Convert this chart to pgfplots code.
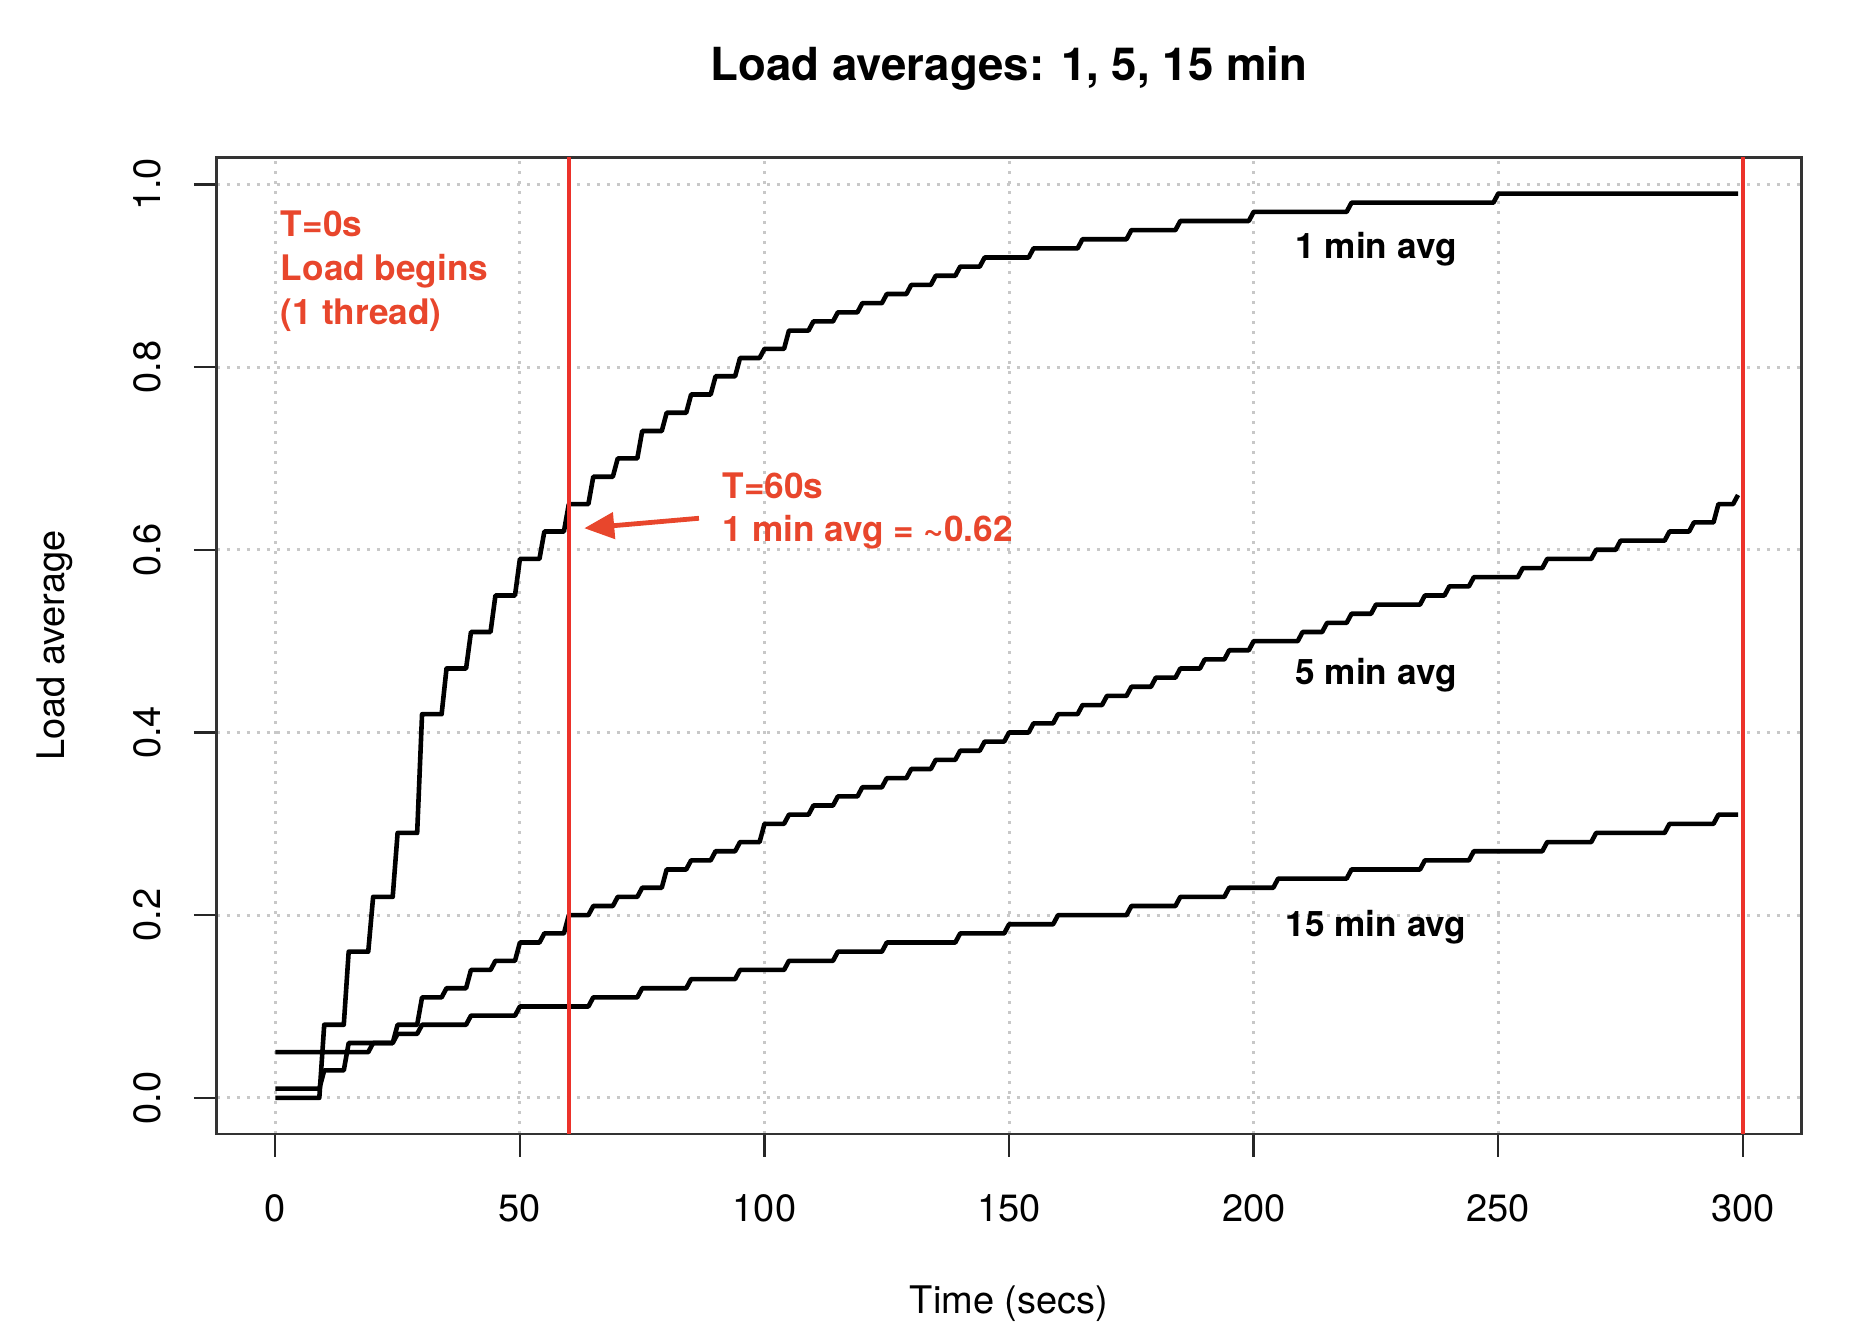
\documentclass[border=0pt]{standalone}
\usepackage{fontspec}
\setmainfont{TeX Gyre Heros}
\usepackage{pgfplots}
\pgfplotsset{compat=1.18}
\usetikzlibrary{arrows.meta}
\definecolor{annot}{RGB}{232,70,44}
\definecolor{vline}{RGB}{236,50,42}
\definecolor{gridc}{RGB}{200,200,200}
\begin{document}
\begin{tikzpicture}
\begin{axis}[
  at={(0pt,0pt)}, anchor=south west,
  scale only axis, width=396.25pt, height=244.15pt,
  xmin=-12, xmax=312, ymin=-0.0396, ymax=1.0296,
  xtick={0,50,100,150,200,250,300},
  xticklabels={0,50,100,150,200,250,300},
  ytick={0,0.2,0.4,0.6,0.8,1.0},
  yticklabels={0.0,0.2,0.4,0.6,0.8,1.0},
  xtick pos=left, ytick pos=left,
  tick align=outside, major tick length=5.7pt,
  every tick/.style={black!85, line width=0.6pt},
  axis line style={black!80, line width=0.65pt},
  grid=major,
  major grid style={gridc, line width=0.75pt, dash pattern=on 0.75pt off 1.75pt},
  ticklabel style={font=\fontsize{9.5}{11}\selectfont},
  xticklabel style={anchor=base, yshift=-16.2pt},
  yticklabel style={xshift=-8.3pt, rotate=90, anchor=base},
]
% 1 min average
\addplot[black, line width=1.15pt, line join=round] coordinates {
(0,0.00)(9,0.00)(10,0.08)(14,0.08)(15,0.16)(19,0.16)(20,0.22)(24,0.22)
(25,0.29)(29,0.29)(30,0.42)(34,0.42)(35,0.47)(39,0.47)(40,0.51)(44,0.51)
(45,0.55)(49,0.55)(50,0.59)(54,0.59)(55,0.62)(59,0.62)(60,0.65)(64,0.65)
(65,0.68)(69,0.68)(70,0.70)(74,0.70)(75,0.73)(79,0.73)(80,0.75)(84,0.75)
(85,0.77)(89,0.77)(90,0.79)(94,0.79)(95,0.81)(99,0.81)(100,0.82)(104,0.82)
(105,0.84)(109,0.84)(110,0.85)(114,0.85)(115,0.86)(119,0.86)(120,0.87)(124,0.87)
(125,0.88)(129,0.88)(130,0.89)(134,0.89)(135,0.90)(139,0.90)(140,0.91)(144,0.91)
(145,0.92)(154,0.92)(155,0.93)(164,0.93)(165,0.94)(174,0.94)(175,0.95)(184,0.95)
(185,0.96)(199,0.96)(200,0.97)(219,0.97)(220,0.98)(249,0.98)(250,0.99)(299,0.99)
};
% 5 min average
\addplot[black, line width=1.15pt, line join=round] coordinates {
(0,0.01)(9,0.01)(10,0.03)(14,0.03)(15,0.06)(24,0.06)(25,0.08)(29,0.08)
(30,0.11)(34,0.11)(35,0.12)(39,0.12)(40,0.14)(44,0.14)(45,0.15)(49,0.15)
(50,0.17)(54,0.17)(55,0.18)(59,0.18)(60,0.20)(64,0.20)(65,0.21)(69,0.21)
(70,0.22)(74,0.22)(75,0.23)(79,0.23)(80,0.25)(84,0.25)(85,0.26)(89,0.26)
(90,0.27)(94,0.27)(95,0.28)(99,0.28)(100,0.30)(104,0.30)(105,0.31)(109,0.31)
(110,0.32)(114,0.32)(115,0.33)(119,0.33)(120,0.34)(124,0.34)(125,0.35)(129,0.35)
(130,0.36)(134,0.36)(135,0.37)(139,0.37)(140,0.38)(144,0.38)(145,0.39)(149,0.39)
(150,0.40)(154,0.40)(155,0.41)(159,0.41)(160,0.42)(164,0.42)(165,0.43)(169,0.43)
(170,0.44)(174,0.44)(175,0.45)(179,0.45)(180,0.46)(184,0.46)(185,0.47)(189,0.47)
(190,0.48)(194,0.48)(195,0.49)(199,0.49)(200,0.50)(209,0.50)(210,0.51)(214,0.51)
(215,0.52)(219,0.52)(220,0.53)(224,0.53)(225,0.54)(234,0.54)(235,0.55)(239,0.55)
(240,0.56)(244,0.56)(245,0.57)(254,0.57)(255,0.58)(259,0.58)(260,0.59)(269,0.59)
(270,0.60)(274,0.60)(275,0.61)(284,0.61)(285,0.62)(289,0.62)(290,0.63)(294,0.63)
(295,0.65)(298,0.65)(299,0.66)
};
% 15 min average
\addplot[black, line width=1.15pt, line join=round] coordinates {
(0,0.05)(19,0.05)(20,0.06)(24,0.06)(25,0.07)(29,0.07)(30,0.08)(39,0.08)
(40,0.09)(49,0.09)(50,0.10)(64,0.10)(65,0.11)(74,0.11)(75,0.12)(84,0.12)
(85,0.13)(94,0.13)(95,0.14)(104,0.14)(105,0.15)(114,0.15)(115,0.16)(124,0.16)
(125,0.17)(139,0.17)(140,0.18)(149,0.18)(150,0.19)(159,0.19)(160,0.20)(174,0.20)
(175,0.21)(184,0.21)(185,0.22)(194,0.22)(195,0.23)(204,0.23)(205,0.24)(219,0.24)
(220,0.25)(234,0.25)(235,0.26)(244,0.26)(245,0.27)(259,0.27)(260,0.28)(269,0.28)
(270,0.29)(284,0.29)(285,0.30)(294,0.30)(295,0.31)(299,0.31)
};
% vertical markers
\addplot[vline, line width=1pt] coordinates {(60,-0.0396)(60,1.0296)};
\addplot[vline, line width=1pt] coordinates {(300,-0.0396)(300,1.0296)};
% annotations
\draw[annot, line width=1.2pt, -{Triangle[length=7.5pt,width=6.5pt]}]
  (axis cs:86.6,0.6345) -- (axis cs:63.15,0.6236);
\begin{scope}[every node/.style={font=\fontsize{8.8}{10}\selectfont\bfseries, inner sep=0pt}]
\node[annot, anchor=base west] at (axis cs:1,0.9435) {T=0s};
\node[annot, anchor=base west] at (axis cs:1,0.895) {Load begins};
\node[annot, anchor=base west] at (axis cs:1,0.847) {(1 thread)};
\node[annot, anchor=base west] at (axis cs:91.3,0.656) {T=60s};
\node[annot, anchor=base west] at (axis cs:91.3,0.609) {1 min avg = \textasciitilde0.62};
\node[black, anchor=base] at (axis cs:225,0.919) {1 min avg};
\node[black, anchor=base] at (axis cs:225,0.453) {5 min avg};
\node[black, anchor=base] at (axis cs:225,0.177) {15 min avg};
\end{scope}
\end{axis}
\node[anchor=base, inner sep=0pt, font=\fontsize{11.4}{13}\selectfont\bfseries] at (198.1pt,263.4pt) {Load averages: 1, 5, 15 min};
\node[anchor=base, inner sep=0pt, font=\fontsize{9.5}{11}\selectfont] at (198.1pt,-45pt) {Time (secs)};
\node[anchor=base, inner sep=0pt, rotate=90, font=\fontsize{9.5}{11}\selectfont] at (-38.1pt,122.1pt) {Load average};
\pgfresetboundingbox
\useasboundingbox (-54.15pt,-51pt) rectangle (409.85pt,283.5pt);
\end{tikzpicture}
\end{document}
